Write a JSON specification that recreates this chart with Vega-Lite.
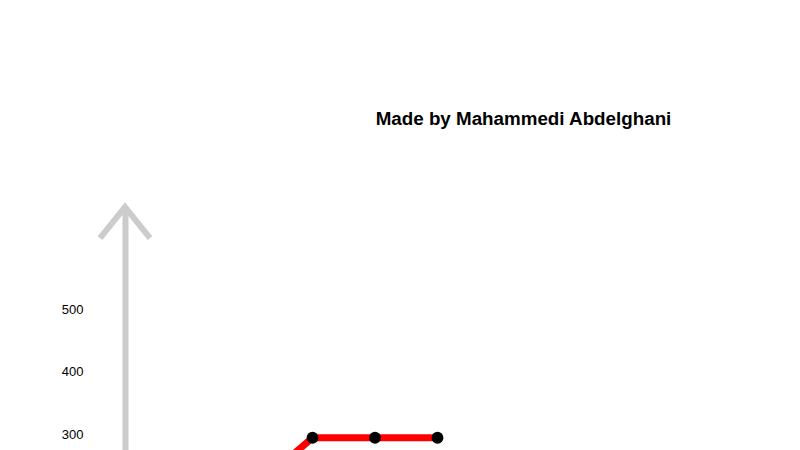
{
  "$schema": "https://vega.github.io/schema/vega-lite/v6.json",
  "description": "Red line with black dots, arrow-headed y axis",
  "autosize": "none",
  "padding": {"left": 125, "top": 209, "right": 0, "bottom": 0},
  "width": 675,
  "height": 241,
  "title": {
    "text": "Made by Mahammedi Abdelghani",
    "anchor": "middle",
    "dx": 61,
    "offset": 66,
    "font": "Liberation Sans",
    "fontSize": 18.8,
    "fontWeight": "bold",
    "color": "#000000"
  },
  "datasets": {
    "series": [
      {"x": 2, "y": 208},
      {"x": 3, "y": 294},
      {"x": 4, "y": 294},
      {"x": 5, "y": 294}
    ],
    "arrow": [{"x": 0, "y": 663}]
  },
  "layer": [
    {
      "data": {"name": "series"},
      "mark": {"type": "line", "color": "#ff0000", "strokeWidth": 7, "clip": true},
      "encoding": {
        "x": {"field": "x", "type": "quantitative", "scale": {"domain": [0, 10.8], "nice": false, "zero": false}, "axis": null},
        "y": {
          "field": "y",
          "type": "quantitative",
          "scale": {"domain": [274.4, 660], "nice": false, "zero": false},
          "axis": {
            "values": [300, 400, 500],
            "title": null,
            "grid": false,
            "ticks": false,
            "tickSize": 0,
            "labelPadding": 42,
            "labelFont": "Liberation Sans",
            "labelFontSize": 13,
            "labelColor": "#000000",
            "domainColor": "#cccccc",
            "domainWidth": 6
          }
        }
      }
    },
    {
      "data": {"name": "series"},
      "mark": {"type": "point", "filled": true, "color": "#000000", "size": 140, "opacity": 1, "clip": true},
      "encoding": {
        "x": {"field": "x", "type": "quantitative"},
        "y": {"field": "y", "type": "quantitative"}
      }
    },
    {
      "data": {"name": "arrow"},
      "mark": {
        "type": "point",
        "shape": "M-1,1.24L0,0L1,1.24",
        "filled": false,
        "stroke": "#cccccc",
        "strokeWidth": 6,
        "strokeJoin": "miter",
        "size": 2500,
        "opacity": 1,
        "clip": false
      },
      "encoding": {
        "x": {"field": "x", "type": "quantitative"},
        "y": {"field": "y", "type": "quantitative"}
      }
    }
  ],
  "config": {"view": {"stroke": null}, "font": "Liberation Sans"}
}
